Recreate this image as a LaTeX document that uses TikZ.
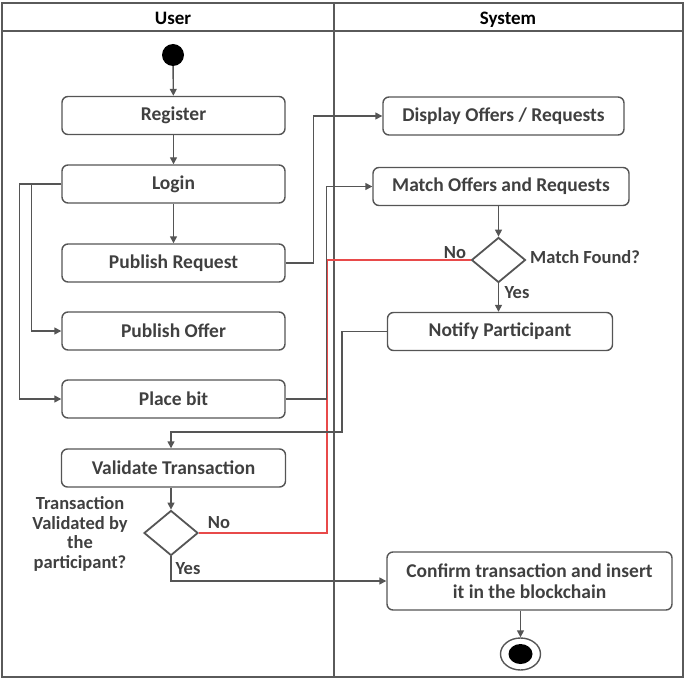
\documentclass[tikz,border=0pt]{standalone}
\usepackage{fontspec}
\setmainfont{Carlito}
\usetikzlibrary{shapes.geometric,arrows.meta}
\definecolor{ln}{HTML}{555555}
\definecolor{tx}{HTML}{404040}
\definecolor{fr}{HTML}{5A5A5A}
\definecolor{rl}{HTML}{E84A4A}
\begin{document}
\begin{tikzpicture}[x=1pt,y=-1pt,
  box/.style={draw=ln, line width=1.4pt, rounded corners=6pt, minimum height=38pt,
    inner sep=0pt, align=center, font=\bfseries\fontsize{19.5}{21.5}\selectfont, text=tx},
  dia/.style={draw=ln, line width=1.8pt, diamond, inner sep=0pt, minimum width=54pt, minimum height=45pt},
  lbl/.style={font=\bfseries\fontsize{18.5}{19.5}\selectfont, text=tx, inner sep=0pt, align=center},
  hdr/.style={font=\bfseries\fontsize{19}{21}\selectfont, text=black, inner sep=0pt, anchor=base},
  arr/.style={draw=ln, line width=1.4pt, -{Triangle[length=7pt,width=7pt]}},
  conn/.style={draw=ln, line width=1.4pt},
  redline/.style={draw=rl, line width=1.6pt},
  frame/.style={draw=fr, line width=1.6pt}
]
\useasboundingbox (0,0) rectangle (685,679);
% swimlane frame
\draw[frame] (2,3) rectangle (683,677);
\draw[frame] (2,31) -- (683,31);
\draw[frame] (334,3) -- (334,677);
\node[hdr] (huser) at (173,25) {User};
\node[hdr] (hsys) at (508,25) {System};

% start / end
\node[circle, fill=black, minimum size=22pt, inner sep=0pt] (start) at (173,55) {};
\node[ellipse, draw=ln, line width=1.4pt, minimum width=40pt, minimum height=32pt, inner sep=0pt] (endc) at (520.5,654) {};
\node[ellipse, fill=black, minimum width=24pt, minimum height=20pt, inner sep=0pt] (endin) at (520.5,654) {};

% user lane
\node[box, minimum width=223pt] (reg) at (173.5,115.5) {Register};
\node[box, minimum width=223pt] (login) at (173.5,184) {Login};
\node[box, minimum width=223pt] (pubreq) at (173.5,263) {Publish Request};
\node[box, minimum width=223pt] (puboff) at (173.5,331) {Publish Offer};
\node[box, minimum width=223pt] (place) at (173.5,399) {Place bit};
\node[box, minimum width=224pt] (valid) at (173.5,468) {Validate Transaction};
\node[dia] (dval) at (171,533) {};
\node[lbl] (qval) at (80,534) {Transaction\\Validated by\\the\\participant?};
\node[lbl] (noval) at (219,523) {No};
\node[lbl] (yesval) at (188,569) {Yes};

% system lane
\node[box, minimum width=241pt] (disp) at (503.5,116) {Display Offers / Requests};
\node[box, minimum width=256pt] (match) at (501,186.5) {Match Offers and Requests};
\node[dia] (dmatch) at (498.5,260) {};
\node[lbl, anchor=west] (qmatch) at (530,257) {Match Found?};
\node[lbl] (nomatch) at (455,253) {No};
\node[lbl] (yesmatch) at (517,293) {Yes};
\node[box, minimum width=225pt] (notify) at (500,331.5) {Notify Participant};
\node[box, minimum width=285pt, minimum height=58pt] (confirm) at (529.5,581) {Confirm transaction and insert\\it in the blockchain};

% red "No" connector
\draw[redline] (dval.east) -- ++(128,0) |- (dmatch.west);

% connectors
\draw[arr] (start) -- (reg);
\draw[arr] (reg) -- (login);
\draw[arr] (login) -- (pubreq);
\draw[arr] (login.west) -- ++(-30,0) |- (puboff.west);
\draw[arr] (login.west) -- ++(-42,0) |- (place.west);
\draw[arr] (pubreq.east) -- ++(28,0) |- (disp.west);
\draw[arr] (place.east) -- ++(41,0) |- (match.west);
\draw[arr] (match.south -| dmatch.north) -- (dmatch.north);
\draw[arr] (dmatch.south) -- (notify.north -| dmatch.south);
\draw[arr] (notify.west) -- ++(-45,0) -- ++(0,100.5) -| (valid.north -| dval.north);
\draw[arr] (valid.south -| dval.north) -- (dval.north);
\draw[arr] (dval.south) |- (confirm.west);
\draw[arr] (confirm.south -| endc.north) -- (endc.north);
\end{tikzpicture}
\end{document}
